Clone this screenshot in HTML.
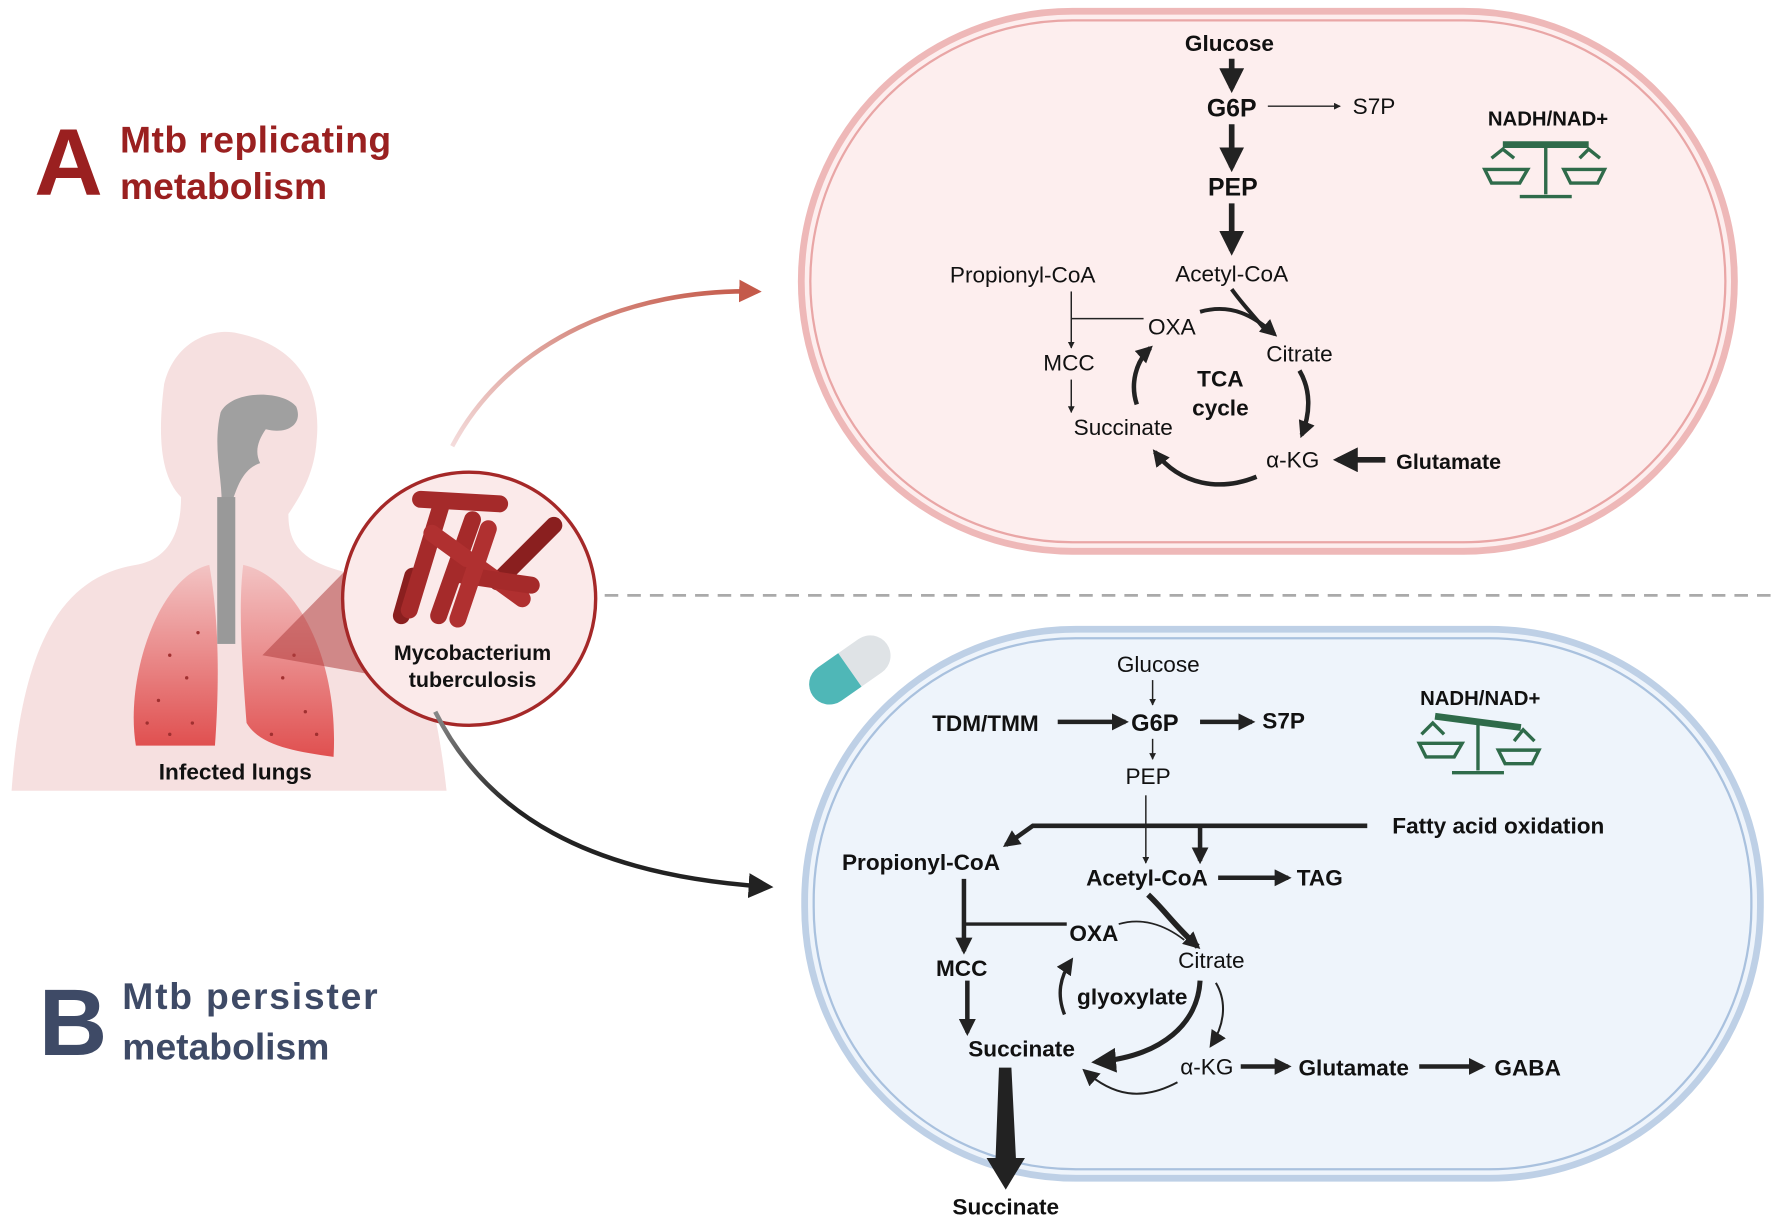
<!DOCTYPE html>
<html><head><meta charset="utf-8"><style>
html,body{margin:0;padding:0;background:#fff}
svg{display:block}
text{font-family:"Liberation Sans",sans-serif}
</style></head><body>
<svg width="1772" height="1228" viewBox="0 0 1568 1087" xmlns="http://www.w3.org/2000/svg">
<defs>
<marker id="ah" viewBox="0 0 10 10" refX="9" refY="5" markerWidth="6" markerHeight="6" orient="auto-start-reverse" markerUnits="userSpaceOnUse"><path d="M0,0L10,5L0,10z" fill="#222"/></marker>
<marker id="ahb" viewBox="0 0 10 10" refX="8" refY="5" markerWidth="22" markerHeight="22" orient="auto" markerUnits="userSpaceOnUse"><path d="M0,0L10,5L0,10z" fill="#222"/></marker>
<marker id="ahm" viewBox="0 0 10 10" refX="8" refY="5" markerWidth="15" markerHeight="15" orient="auto" markerUnits="userSpaceOnUse"><path d="M0,0L10,5L0,10z" fill="#222"/></marker>
<marker id="ahr" viewBox="0 0 10 10" refX="8" refY="5" markerWidth="20" markerHeight="20" orient="auto" markerUnits="userSpaceOnUse"><path d="M0,0L10,5L0,10z" fill="#c45a4a"/></marker>
<linearGradient id="lung" x1="0" y1="0" x2="0" y2="1"><stop offset="0" stop-color="#f3c4c4"/><stop offset="1" stop-color="#e05050"/></linearGradient>
<linearGradient id="red" x1="0" y1="1" x2="1" y2="0"><stop offset="0" stop-color="#f4dcdc"/><stop offset="1" stop-color="#c45a4a"/></linearGradient>
<linearGradient id="blk" x1="0" y1="0" x2="1" y2="1"><stop offset="0" stop-color="#888"/><stop offset="0.4" stop-color="#222"/><stop offset="1" stop-color="#222"/></linearGradient>
</defs>

<rect x="709" y="10" width="826" height="478" rx="240" fill="#fdeeee" stroke="#eeb8b8" stroke-width="6"/>
<rect x="717" y="18" width="810" height="462" rx="232" fill="none" stroke="#e9a6a6" stroke-width="2"/>
<rect x="712" y="557" width="846" height="486" rx="240" fill="#eef4fb" stroke="#bed0e6" stroke-width="6"/>
<rect x="720" y="565" width="830" height="470" rx="232" fill="none" stroke="#a9c1de" stroke-width="2"/>

<line x1="535" y1="527" x2="1568" y2="527" stroke="#aaa" stroke-width="2.5" stroke-dasharray="12,8"/>

<text x="30" y="172" font-size="84" font-weight="bold" fill="#9a2020">A</text>
<text x="106" y="135" font-size="33" font-weight="bold" fill="#9a2020" textLength="240">Mtb replicating</text>
<text x="106" y="176" font-size="33" font-weight="bold" fill="#9a2020">metabolism</text>
<text x="34" y="934" font-size="84" font-weight="bold" fill="#3e4a66">B</text>
<text x="108" y="893" font-size="33" font-weight="bold" fill="#3e4a66" textLength="226">Mtb persister</text>
<text x="108" y="938" font-size="33" font-weight="bold" fill="#3e4a66">metabolism</text>

<!-- human -->
<path d="M10,700 C20,560 60,510 120,500 C150,495 160,470 160,440 C140,420 140,380 145,340 C155,300 190,290 210,295 C260,305 285,340 280,390 C278,420 265,440 255,455 C255,480 265,495 300,505 C340,515 380,560 395,700 Z" fill="#f6e0e0"/>
<path d="M195,365 C205,345 250,345 262,360 C268,375 255,385 235,380 C228,390 225,400 230,410 C215,415 210,430 205,445 L196,445 C196,420 188,395 195,365 Z" fill="#a0a0a0"/>
<rect x="192" y="440" width="16" height="130" fill="#999"/>
<path d="M120,660 C110,600 140,510 185,500 C192,540 195,590 190,660 Z" fill="url(#lung)"/>
<path d="M215,500 C260,510 300,580 295,670 C260,665 230,660 218,640 C215,600 210,540 215,500 Z" fill="url(#lung)"/>
<g fill="#a03030">
<circle cx="150" cy="580" r="1.5"/><circle cx="165" cy="600" r="1.5"/><circle cx="140" cy="620" r="1.5"/><circle cx="170" cy="640" r="1.5"/><circle cx="150" cy="650" r="1.5"/><circle cx="130" cy="640" r="1.5"/><circle cx="175" cy="560" r="1.5"/><circle cx="250" cy="600" r="1.5"/><circle cx="270" cy="630" r="1.5"/><circle cx="240" cy="650" r="1.5"/><circle cx="280" cy="650" r="1.5"/><circle cx="260" cy="580" r="1.5"/></g>
<polygon points="232,580 330,480 345,600" fill="#b04040" opacity="0.55"/>
<circle cx="415" cy="530" r="112" fill="#fbeaea" stroke="#a52828" stroke-width="3"/>
<g stroke-linecap="round" stroke-width="15">
<line x1="365" y1="510" x2="355" y2="545" stroke="#8a1f1f"/>
<line x1="490" y1="465" x2="440" y2="515" stroke="#8a1f1f"/>
<line x1="372" y1="442" x2="442" y2="446" stroke="#a52a2a"/>
<line x1="390" y1="448" x2="362" y2="540" stroke="#a52a2a"/>
<line x1="418" y1="460" x2="388" y2="545" stroke="#a52a2a"/>
<line x1="382" y1="472" x2="462" y2="530" stroke="#b03030"/>
<line x1="402" y1="508" x2="470" y2="518" stroke="#a52a2a"/>
<line x1="432" y1="468" x2="405" y2="548" stroke="#b03030"/>
</g>
<text x="418" y="584" font-size="19" font-weight="bold" text-anchor="middle" fill="#111">Mycobacterium</text>
<text x="418" y="608" font-size="19" font-weight="bold" text-anchor="middle" fill="#111">tuberculosis</text>
<text x="208" y="690" font-size="20" font-weight="bold" text-anchor="middle" fill="#111">Infected lungs</text>

<path d="M400,395 C450,300 560,255 670,258" fill="none" stroke="url(#red)" stroke-width="4" marker-end="url(#ahr)"/>
<path d="M385,630 C430,720 520,775 680,785" fill="none" stroke="url(#blk)" stroke-width="4" marker-end="url(#ahb)"/>

<g transform="rotate(-35 752 593)"><rect x="712" y="575" width="80" height="36" rx="18" fill="#dfe3e6"/><path d="M730,575 H752 V611 H730 A18,18 0 0 1 730,575 Z" fill="#4fb7b7"/></g>

<g fill="#111" font-size="20">
<text x="1088" y="45" text-anchor="middle" font-weight="bold">Glucose</text>
<text x="1090" y="103" text-anchor="middle" font-weight="bold" font-size="22">G6P</text>
<text x="1216" y="101" text-anchor="middle">S7P</text>
<text x="1091" y="173" text-anchor="middle" font-weight="bold" font-size="22">PEP</text>
<text x="905" y="250" text-anchor="middle">Propionyl-CoA</text>
<text x="1090" y="249" text-anchor="middle">Acetyl-CoA</text>
<text x="1037" y="296" text-anchor="middle">OXA</text>
<text x="1150" y="320" text-anchor="middle">Citrate</text>
<text x="946" y="328" text-anchor="middle">MCC</text>
<text x="1080" y="342" text-anchor="middle" font-weight="bold">TCA</text>
<text x="1080" y="368" text-anchor="middle" font-weight="bold">cycle</text>
<text x="994" y="385" text-anchor="middle">Succinate</text>
<text x="1144" y="414" text-anchor="middle">α-KG</text>
<text x="1282" y="415" text-anchor="middle" font-weight="bold" font-size="19">Glutamate</text>
<text x="1370" y="111" text-anchor="middle" font-weight="bold" font-size="18">NADH/NAD+</text>
</g>
<g stroke="#222" fill="none">
<line x1="1090" y1="52" x2="1090" y2="78" stroke-width="5" marker-end="url(#ahb)"/>
<line x1="1122" y1="94" x2="1186" y2="94" stroke-width="1.3" marker-end="url(#ah)"/>
<line x1="1090" y1="110" x2="1090" y2="148" stroke-width="5" marker-end="url(#ahb)"/>
<line x1="1090" y1="180" x2="1090" y2="222" stroke-width="5" marker-end="url(#ahb)"/>
<line x1="948" y1="258" x2="948" y2="308" stroke-width="1.3" marker-end="url(#ah)"/>
<line x1="948" y1="282" x2="1012" y2="282" stroke-width="1.3"/>
<line x1="948" y1="336" x2="948" y2="365" stroke-width="1.3" marker-end="url(#ah)"/>
<path d="M1062,276 C1090,268 1110,280 1128,296" stroke-width="3.5" marker-end="url(#ahm)"/>
<path d="M1090,256 C1100,270 1110,280 1118,290" stroke-width="3.5"/>
<path d="M1150,328 C1160,345 1160,365 1152,385" stroke-width="4" marker-end="url(#ahm)"/>
<path d="M1112,422 C1080,435 1045,430 1022,400" stroke-width="4" marker-end="url(#ahm)"/>
<path d="M1006,358 C1000,340 1005,320 1018,308" stroke-width="4" marker-end="url(#ahm)"/>
<line x1="1226" y1="407" x2="1184" y2="407" stroke-width="5" marker-end="url(#ahb)"/>
</g>
<g fill="none" stroke="#2f6b4a" stroke-width="3">
<line x1="1368" y1="130" x2="1368" y2="172"/><line x1="1345" y1="174" x2="1391" y2="174"/><line x1="1330" y1="128" x2="1406" y2="128" stroke-width="6"/>
<path d="M1320,140 L1330,132 L1340,140 M1398,140 L1406,132 L1416,140"/>
<path d="M1314,150 H1352 L1345,162 H1320 Z"/><path d="M1384,150 H1420 L1414,162 H1390 Z"/>
</g>

<g fill="#111" font-size="20">
<text x="1025" y="595" text-anchor="middle">Glucose</text>
<text x="872" y="647" text-anchor="middle" font-weight="bold">TDM/TMM</text>
<text x="1022" y="647" text-anchor="middle" font-weight="bold" font-size="21">G6P</text>
<text x="1136" y="645" text-anchor="middle" font-weight="bold">S7P</text>
<text x="1016" y="694" text-anchor="middle">PEP</text>
<text x="1326" y="738" text-anchor="middle" font-weight="bold">Fatty acid oxidation</text>
<text x="815" y="770" text-anchor="middle" font-weight="bold">Propionyl-CoA</text>
<text x="1015" y="784" text-anchor="middle" font-weight="bold">Acetyl-CoA</text>
<text x="1168" y="784" text-anchor="middle" font-weight="bold">TAG</text>
<text x="968" y="833" text-anchor="middle" font-weight="bold">OXA</text>
<text x="1072" y="857" text-anchor="middle">Citrate</text>
<text x="851" y="864" text-anchor="middle" font-weight="bold">MCC</text>
<text x="1002" y="889" text-anchor="middle" font-weight="bold">glyoxylate</text>
<text x="904" y="935" text-anchor="middle" font-weight="bold">Succinate</text>
<text x="1068" y="951" text-anchor="middle">α-KG</text>
<text x="1198" y="952" text-anchor="middle" font-weight="bold">Glutamate</text>
<text x="1352" y="952" text-anchor="middle" font-weight="bold">GABA</text>
<text x="890" y="1075" text-anchor="middle" font-weight="bold">Succinate</text>
<text x="1310" y="624" text-anchor="middle" font-weight="bold" font-size="18">NADH/NAD+</text>
</g>
<g stroke="#222" fill="none">
<line x1="1020" y1="602" x2="1020" y2="624" stroke-width="1.3" marker-end="url(#ah)"/>
<line x1="936" y1="639" x2="996" y2="639" stroke-width="4" marker-end="url(#ahm)"/>
<line x1="1062" y1="639" x2="1108" y2="639" stroke-width="4" marker-end="url(#ahm)"/>
<line x1="1020" y1="654" x2="1020" y2="672" stroke-width="1.3" marker-end="url(#ah)"/>
<line x1="1014" y1="704" x2="1014" y2="764" stroke-width="1.3" marker-end="url(#ah)"/>
<path d="M1210,731 H914 L890,748" stroke-width="4" marker-end="url(#ahm)"/>
<line x1="1062" y1="731" x2="1062" y2="762" stroke-width="4" marker-end="url(#ahm)"/>
<line x1="1078" y1="777" x2="1140" y2="777" stroke-width="4" marker-end="url(#ahm)"/>
<line x1="853" y1="778" x2="853" y2="842" stroke-width="4" marker-end="url(#ahm)"/>
<line x1="853" y1="818" x2="944" y2="818" stroke-width="3"/>
<line x1="856" y1="868" x2="856" y2="914" stroke-width="4" marker-end="url(#ahm)"/>
<path d="M1016,792 C1030,805 1040,820 1060,838" stroke-width="5" marker-end="url(#ahm)"/>
<path d="M990,818 C1010,812 1030,818 1048,832" stroke-width="1.5"/>
<path d="M1076,870 C1085,885 1085,905 1072,925" stroke-width="1.8" marker-end="url(#ahm)"/>
<path d="M1062,868 C1060,905 1030,935 970,940" stroke-width="4.5" marker-end="url(#ahb)"/>
<path d="M1042,958 C1010,975 985,970 960,948" stroke-width="1.8" marker-end="url(#ahm)"/>
<path d="M942,898 C935,880 938,865 948,850" stroke-width="3" marker-end="url(#ahm)"/>
<line x1="1098" y1="944" x2="1140" y2="944" stroke-width="4" marker-end="url(#ahm)"/>
<line x1="1256" y1="944" x2="1312" y2="944" stroke-width="4" marker-end="url(#ahm)"/>
</g>
<path d="M884,945 L895,945 L899,1025 L907,1025 L890,1053 L873,1025 L881,1025 Z" fill="#222"/>
<g fill="none" stroke="#2f6b4a" stroke-width="3">
<line x1="1308" y1="640" x2="1308" y2="682"/><line x1="1285" y1="684" x2="1331" y2="684"/><line x1="1270" y1="634" x2="1346" y2="644" stroke-width="6"/>
<path d="M1258,650 L1268,640 L1278,650 M1340,656 L1348,646 L1358,656"/>
<path d="M1256,658 H1294 L1287,670 H1262 Z"/><path d="M1326,664 H1362 L1356,676 H1332 Z"/>
</g>
</svg>
</body></html>
